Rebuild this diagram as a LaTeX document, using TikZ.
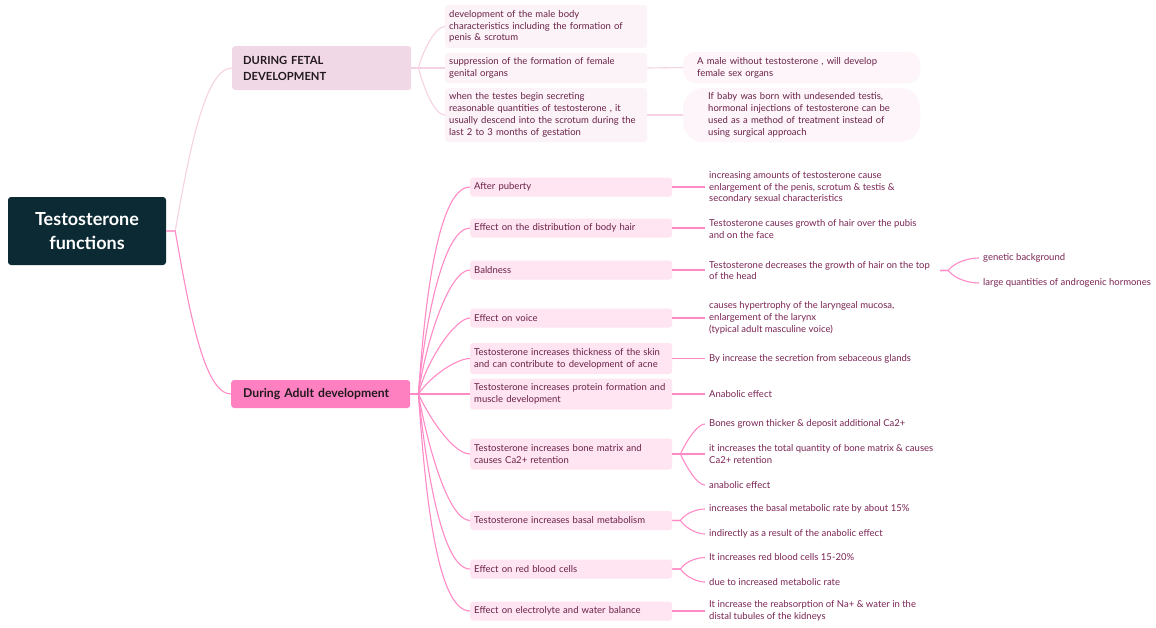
\documentclass[tikz,border=0pt]{standalone}
\usepackage{fontspec}
\setmainfont{Lato}
\definecolor{rootc}{HTML}{0C2A33}
\definecolor{fetalc}{HTML}{F1D8E6}
\definecolor{fcfill}{HTML}{FCF3F8}
\definecolor{gcfill}{HTML}{FDF5F9}
\definecolor{adultc}{HTML}{FF80C0}
\definecolor{acfill}{HTML}{FFE4F1}
\definecolor{darktxt}{HTML}{221A1F}
\definecolor{ctext}{HTML}{6A2148}
\definecolor{ltext}{HTML}{7A2454}
\definecolor{fline}{HTML}{F6D3E4}
\definecolor{aline}{HTML}{FF8AC6}
\begin{document}
\begin{tikzpicture}[x=1pt,y=1pt,
  smallfont/.style={font=\fontsize{9.5}{11.8}\selectfont},
  rootbox/.style={fill=rootc,text=white,rounded corners=3pt,minimum width=158pt,minimum height=68pt,align=center,inner sep=0pt,font=\bfseries\fontsize{18}{24.5}\selectfont},
  fetalbox/.style={anchor=west,fill=fetalc,text=darktxt,rounded corners=3pt,minimum width=179pt,minimum height=44pt,text width=157pt,inner xsep=11pt,inner ysep=0pt,align=left,font=\bfseries\fontsize{11.2}{16}\selectfont},
  adultbox/.style={anchor=west,fill=adultc,text=darktxt,rounded corners=3pt,minimum width=179pt,minimum height=28pt,text width=155pt,inner xsep=12pt,inner ysep=0pt,align=left,font=\bfseries\fontsize{12.2}{14}\selectfont},
  fchild/.style={anchor=west,fill=fcfill,text=ctext,rounded corners=3pt,text width=194pt,inner xsep=4pt,inner ysep=0pt,align=left,smallfont},
  achild/.style={anchor=west,fill=acfill,text=ctext,rounded corners=3pt,text width=194pt,inner xsep=4pt,inner ysep=0pt,align=left,minimum height=19pt,smallfont},
  pill/.style={anchor=west,fill=gcfill,text=ctext,align=left,inner ysep=0pt,smallfont},
  leaf/.style={anchor=west,text=ltext,inner xsep=4pt,inner ysep=1pt,align=left,smallfont},
  fcon/.style={draw=fline,line width=1.1pt},
  acon/.style={draw=aline,line width=1.1pt}
]
\useasboundingbox (0,0) rectangle (1156,-627);
\fill[white] (0,0) rectangle (1156,-627);

% main nodes
\node[rootbox] (root) at (87,-231) {Testosterone\\functions};
\node[fetalbox] (fetal) at (232,-68) {DURING FETAL\\DEVELOPMENT};
\node[adultbox] (adult) at (231,-394) {During Adult development};

% fetal children
\node[fchild,minimum height=43pt] (fc1) at (445,-26.5) {development of the male body\\characteristics including the formation of\\penis \& scrotum};
\node[fchild,minimum height=30pt] (fc2) at (445,-68) {suppression of the formation of female\\genital organs};
\node[fchild,minimum height=54pt] (fc3) at (445,-115) {when the testes begin secreting\\reasonable quantities of testosterone , it\\usually descend into the scrotum during the\\last 2 to 3 months of gestation};
\node[pill,rounded corners=12pt,minimum height=31pt,inner xsep=14pt,text width=209pt] (gc2) at (683,-67.5) {A male without testosterone , will develop\\female sex organs};
\node[pill,rounded corners=20pt,minimum height=54pt,inner xsep=25pt,text width=187pt] (gc3) at (683,-115) {If baby was born with undesended testis,\\hormonal injections of testosterone can be\\used as a method of treatment instead of\\using surgical approach};

% adult children
\node[achild] (a1) at (470,-187) {After puberty};
\node[achild] (a2) at (470,-228) {Effect on the distribution of body hair};
\node[achild] (a3) at (470,-270) {Baldness};
\node[achild] (a4) at (470,-318) {Effect on voice};
\node[achild,minimum height=31pt] (a5) at (470,-358.5) {Testosterone increases thickness of the skin\\and can contribute to development of acne};
\node[achild,minimum height=31pt] (a6) at (470,-394) {Testosterone increases protein formation and\\muscle development};
\node[achild,minimum height=31pt] (a7) at (470,-454) {Testosterone increases bone matrix and\\causes Ca2+ retention};
\node[achild] (a8) at (470,-520.5) {Testosterone increases basal metabolism};
\node[achild] (a9) at (470,-569) {Effect on red blood cells};
\node[achild] (a10) at (470,-611) {Effect on electrolyte and water balance};

% leaves
\node[leaf] (l1) at (705,-187.5) {increasing amounts of testosterone cause\\enlargement of the penis, scrotum \& testis \&\\secondary sexual characteristics};
\node[leaf] (l2) at (705,-229) {Testosterone causes growth of hair over the pubis\\and on the face};
\node[leaf] (l3) at (705,-270.5) {Testosterone decreases the growth of hair on the top\\of the head};
\node[leaf] (l4) at (705,-318) {causes hypertrophy of the laryngeal mucosa,\\enlargement of the larynx\\(typical adult masculine voice)};
\node[leaf] (l5) at (705,-358.5) {By increase the secretion from sebaceous glands};
\node[leaf] (l6) at (705,-394) {Anabolic effect};
\node[leaf] (l7a) at (705,-424) {Bones grown thicker \& deposit additional Ca2+};
\node[leaf] (l7b) at (705,-454) {it increases the total quantity of bone matrix \& causes\\Ca2+ retention};
\node[leaf] (l7c) at (705,-485) {anabolic effect};
\node[leaf] (l8a) at (705,-509) {increases the basal metabolic rate by about 15\%};
\node[leaf] (l8b) at (705,-534) {indirectly as a result of the anabolic effect};
\node[leaf] (l9a) at (705,-557.5) {It increases red blood cells 15-20\%};
\node[leaf] (l9b) at (705,-582) {due to increased metabolic rate};
\node[leaf] (l10) at (705,-611) {It increase the reabsorption of Na+ \& water in the\\distal tubules of the kidneys};
\node[leaf] (g1) at (979,-258) {genetic background};
\node[leaf] (g2) at (979,-283) {large quantities of androgenic hormones};

% root connectors
\draw[fcon] (root.east) -- ++(9,0) to[out=80,in=180,out looseness=1.2,in looseness=0.4] (fetal.west);
\draw[acon] (root.east) -- ++(9,0) to[out=-80,in=180,out looseness=1.2,in looseness=0.4] (adult.west);

% fetal connectors
\draw[fcon] (fetal.east) -- ++(7,0) to[out=75,in=180,in looseness=0.5] (fc1.west);
\draw[fcon] (fetal.east) -- (fc2.west);
\draw[fcon] (fetal.east) -- ++(7,0) to[out=-75,in=180,in looseness=0.5] (fc3.west);
\draw[fcon] (fc2.east) -- (gc2.west);
\draw[fcon] (fc3.east) -- (gc3.west);

% adult connectors
\draw[acon] (adult.east) -- ++(8,0) to[out=86,in=180,in looseness=0.4] (a1.west);
\draw[acon] (adult.east) -- ++(8,0) to[out=85,in=180,in looseness=0.4] (a2.west);
\draw[acon] (adult.east) -- ++(8,0) to[out=82,in=180,in looseness=0.4] (a3.west);
\draw[acon] (adult.east) -- ++(8,0) to[out=76,in=180,in looseness=0.4] (a4.west);
\draw[acon] (adult.east) -- ++(8,0) to[out=55,in=180,in looseness=0.5] (a5.west);
\draw[acon] (adult.east) -- (a6.west);
\draw[acon] (adult.east) -- ++(8,0) to[out=-65,in=180,in looseness=0.5] (a7.west);
\draw[acon] (adult.east) -- ++(8,0) to[out=-80,in=180,in looseness=0.4] (a8.west);
\draw[acon] (adult.east) -- ++(8,0) to[out=-84,in=180,in looseness=0.4] (a9.west);
\draw[acon] (adult.east) -- ++(8,0) to[out=-86,in=180,in looseness=0.4] (a10.west);

% leaf connectors
\draw[acon] (a1.east) -- (a1.east -| l1.west);
\draw[acon] (a2.east) -- (a2.east -| l2.west);
\draw[acon] (a3.east) -- (a3.east -| l3.west);
\draw[acon] (a4.east) -- (a4.east -| l4.west);
\draw[acon] (a5.east) -- (a5.east -| l5.west);
\draw[acon] (a6.east) -- (l6.west);
\draw[acon] (a7.east) -- ++(8,0) to[out=65,in=180,in looseness=0.5] (l7a.west);
\draw[acon] (a7.east) -- (l7b.west);
\draw[acon] (a7.east) -- ++(8,0) to[out=-65,in=180,in looseness=0.5] (l7c.west);
\draw[acon] (a8.east) -- ++(8,0) to[out=55,in=180,in looseness=0.6] (l8a.west);
\draw[acon] (a8.east) -- ++(8,0) to[out=-55,in=180,in looseness=0.6] (l8b.west);
\draw[acon] (a9.east) -- ++(8,0) to[out=55,in=180,in looseness=0.6] (l9a.west);
\draw[acon] (a9.east) -- ++(8,0) to[out=-55,in=180,in looseness=0.6] (l9b.west);
\draw[acon] (a10.east) -- (l10.west);
\draw[acon] ([xshift=6pt]l3.east) -- ++(8,0) to[out=50,in=180,in looseness=0.6] (g1.west);
\draw[acon] ([xshift=6pt]l3.east) -- ++(8,0) to[out=-50,in=180,in looseness=0.6] (g2.west);
\end{tikzpicture}
\end{document}
